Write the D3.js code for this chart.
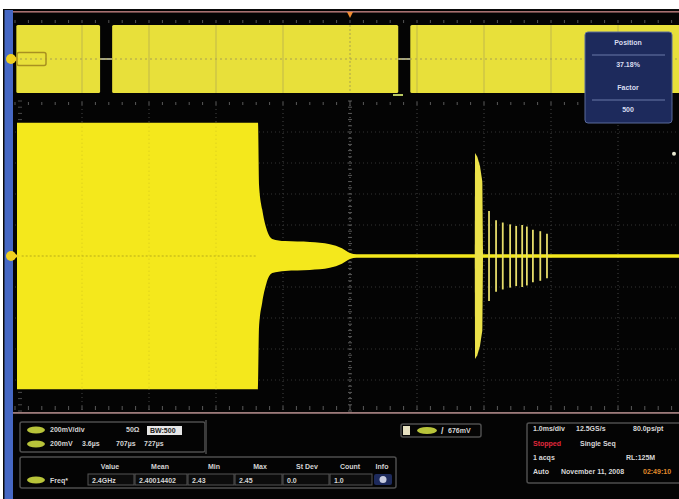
<!DOCTYPE html>
<html>
<head>
<meta charset="utf-8">
<script src="https://cdn.jsdelivr.net/npm/d3@7"></script>
<style>
  html, body { margin: 0; padding: 0; background: #ffffff; }
  svg { display: block; }
  text { font-family: "Liberation Sans", Arial, sans-serif; font-weight: bold; }
</style>
</head>
<body>
<svg id="scope" width="679" height="499"></svg>
<script>
// ---- Acquisition data (time in divisions, amplitude in divisions) ----
// Main channel envelope: carrier on, switch-off, residual tail
const envTime = [0.03, 3.627, 3.642, 3.69, 3.75, 3.84, 4.03, 4.40, 4.70, 4.88, 5.00, 5.10, 10.0];
const envAmp  = [4.30, 4.30,  2.30,  1.50, 0.90, 0.55, 0.48, 0.45, 0.38, 0.25, 0.10, 0.06, 0.06];

// Re-trigger burst: leading spike envelope
const spikeTime = [6.862, 6.866, 6.90, 6.94, 6.975, 6.985];
const spikeAmp  = [0.06,  3.32,  3.20, 2.90, 2.40,  0.06];

// Ringing pulses after the spike
const ringTime = [7.075, 7.18, 7.28, 7.39, 7.48, 7.57, 7.64, 7.73, 7.84, 7.94];
const ringAmp  = [1.45,  1.15, 1.08, 1.02, 0.97, 1.00, 0.95, 0.85, 0.80, 0.72];

// Zoom (overview) window: carrier bursts between gaps
const zoomStart = [0.02, 1.45, 5.90];
const zoomEnd   = [1.27, 5.72, 10.0];
const zoomAmp   = 4.15;

// Readouts
const chanRow1 = ["200mV/div", "50Ω", "BW:500"];
const chanRow2 = ["200mV", "3.6µs", "707µs", "727µs"];
const measHeaders = ["Value", "Mean", "Min", "Max", "St Dev", "Count", "Info"];
const measValues  = ["2.4GHz", "2.40014402", "2.43", "2.45", "0.0", "1.0"];
const zoomInfo = ["Position", "37.18%", "Factor", "500"];
const acqRows = [
  [["1.0ms/div", "#d8d8d8"], ["12.5GS/s", "#d8d8d8"], ["80.0ps/pt", "#d8d8d8"]],
  [["Stopped", "#e0283c"], ["Single Seq", "#d8d8d8"]],
  [["1 acqs", "#d8d8d8"], ["RL:125M", "#d8d8d8"]],
  [["Auto", "#d8d8d8"], ["November 11, 2008", "#d8d8d8"], ["02:49:10", "#e08a2c"]]
];
const trigLevel = "676mV";

// ---- Scales ----
const x  = d3.scaleLinear().domain([0, 10]).range([15, 685]);
const y  = d3.scaleLinear().domain([-5, 5]).range([411, 101]);
const yz = d3.scaleLinear().domain([-5, 5]).range([100, 18]);

const svg = d3.select("#scope");
const YEL = "#f4e81c";

// Frame: white margin, black border, blue side strip, black screen
svg.append("rect").attr("x", 0).attr("y", 0).attr("width", 679).attr("height", 499).attr("fill", "#ffffff");
svg.append("rect").attr("x", 3).attr("y", 9).attr("width", 676).attr("height", 490).attr("fill", "#0a0a0a");
svg.append("rect").attr("x", 4.5).attr("y", 10).attr("width", 8.5).attr("height", 489).attr("fill", "#4668c4");
svg.append("rect").attr("x", 13).attr("y", 10).attr("width", 666).attr("height", 489).attr("fill", "#040404");
svg.append("rect").attr("x", 13).attr("y", 11).attr("width", 666).attr("height", 1.6).attr("fill", "#a87070");
svg.append("rect").attr("x", 13).attr("y", 412).attr("width", 666).attr("height", 1.8).attr("fill", "#9c7a7a");

// ---- Zoom window ----
const zoomG = svg.append("g");
zoomStart.forEach((s, i) => {
  zoomG.append("rect")
    .attr("x", x(s)).attr("y", yz(zoomAmp))
    .attr("width", x(zoomEnd[i]) - x(s))
    .attr("height", yz(-zoomAmp) - yz(zoomAmp))
    .attr("rx", 1.5)
    .attr("fill", "#e8e03a");
});
// Ground segments through the gaps
zoomEnd.slice(0, 2).forEach((e, i) => {
  zoomG.append("line")
    .attr("x1", x(e)).attr("x2", x(zoomStart[i + 1]))
    .attr("y1", yz(0)).attr("y2", yz(0))
    .attr("stroke", "#d8d8b0").attr("stroke-width", 1.5);
});
// Zoom window graticule
d3.range(1, 10).forEach(d => {
  zoomG.append("line")
    .attr("x1", x(d)).attr("x2", x(d)).attr("y1", yz(zoomAmp)).attr("y2", yz(-zoomAmp))
    .attr("stroke", d === 5 ? "#9a9450" : "#b8b050").attr("stroke-width", 1)
    .attr("stroke-dasharray", d === 5 ? "2,2" : null).attr("opacity", 0.8);
});
zoomG.append("line")
  .attr("x1", x(0)).attr("x2", 679).attr("y1", yz(0)).attr("y2", yz(0))
  .attr("stroke", "#a8a050").attr("stroke-dasharray", "2,3");
// tick row above the zoom window
d3.range(0, 50).forEach(i => {
  zoomG.append("line")
    .attr("x1", x(i / 5)).attr("x2", x(i / 5)).attr("y1", 20).attr("y2", 23)
    .attr("stroke", "#555").attr("stroke-width", 1);
});

// ---- Main graticule ----
const grid = svg.append("g");
d3.range(1, 10).forEach(d => {
  grid.append("line")
    .attr("x1", x(d)).attr("x2", x(d)).attr("y1", y(5)).attr("y2", y(-5))
    .attr("stroke", d === 5 ? "#7a7a7a" : "#444")
    .attr("stroke-width", 1).attr("stroke-dasharray", "1,3");
});
d3.range(-4, 5).forEach(d => {
  grid.append("line")
    .attr("x1", x(0)).attr("x2", 679).attr("y1", y(d)).attr("y2", y(d))
    .attr("stroke", d === 0 ? "#6a6a6a" : "#333")
    .attr("stroke-width", 1).attr("stroke-dasharray", "1,3");
});
// minor ticks along the edges and center lines
d3.range(0, 51).forEach(i => {
  const t = i / 5;
  grid.append("line").attr("x1", x(t)).attr("x2", x(t)).attr("y1", y(-5) - 5).attr("y2", y(-5) - 1)
    .attr("stroke", "#5a5a5a");
  grid.append("line").attr("x1", x(t)).attr("x2", x(t)).attr("y1", y(5) + 1).attr("y2", y(5) + 4)
    .attr("stroke", "#5a5a5a");
});
d3.range(-25, 26).forEach(i => {
  const v = i / 5;
  grid.append("line").attr("x1", x(0) + 3).attr("x2", x(0) + 7).attr("y1", y(v)).attr("y2", y(v))
    .attr("stroke", "#4a4a4a");
  grid.append("line").attr("x1", x(5) - 2).attr("x2", x(5) + 2).attr("y1", y(v)).attr("y2", y(v))
    .attr("stroke", "#5a5a5a");
});

// ---- Waveform ----
const area = d3.area()
  .x(d => x(d.t))
  .y0(d => y(-d.a))
  .y1(d => y(d.a))
  .curve(d3.curveMonotoneX);

const envData = envTime.map((t, i) => ({ t, a: envAmp[i] }));
svg.append("path").datum(envData).attr("d", area).attr("fill", YEL);

const spikeData = spikeTime.map((t, i) => ({ t, a: spikeAmp[i] }));
svg.append("path").datum(spikeData).attr("d", area.curve(d3.curveLinear)).attr("fill", "#ece24a");

svg.append("g").selectAll("line").data(ringTime).join("line")
  .attr("x1", d => x(d)).attr("x2", d => x(d))
  .attr("y1", (d, i) => y(ringAmp[i])).attr("y2", (d, i) => y(-ringAmp[i]))
  .attr("stroke", "#e6dc6a").attr("stroke-width", 1.8);

// faint graticule showing through the trace
d3.range(1, 4).forEach(d => {
  svg.append("line")
    .attr("x1", x(d)).attr("x2", x(d)).attr("y1", y(4.3)).attr("y2", y(-4.3))
    .attr("stroke", "#c8bc20").attr("stroke-dasharray", "1,3").attr("opacity", 0.7);
});
svg.append("line")
  .attr("x1", x(0.1)).attr("x2", x(3.6)).attr("y1", y(0)).attr("y2", y(0))
  .attr("stroke", "#b8ac18").attr("stroke-dasharray", "2,2");

// ---- Markers ----
// channel ground reference markers
[yz(0), y(0)].forEach(cy => {
  svg.append("circle").attr("cx", 11).attr("cy", cy).attr("r", 5).attr("fill", "#f0d020");
  svg.append("path").attr("d", `M15,${cy - 2} L20,${cy} L15,${cy + 2} Z`).attr("fill", "#f0d020");
});
svg.append("rect").attr("x", 17).attr("y", yz(0) - 6.5).attr("width", 29).attr("height", 13)
  .attr("rx", 2).attr("fill", "none").attr("stroke", "#a89020").attr("stroke-width", 1.5);
// trigger position marker
svg.append("path").attr("d", `M${x(5) - 3},12 L${x(5) + 3},12 L${x(5)},18 Z`).attr("fill", "#f08a30");
// trigger level marker
svg.append("circle").attr("cx", 674).attr("cy", y(3.3)).attr("r", 2).attr("fill", "#e8e8d0");
// zoom-box position marker under the overview
svg.append("rect").attr("x", 393).attr("y", 94).attr("width", 10).attr("height", 2).attr("fill", "#b8c860");

// ---- Zoom info box ----
const zb = svg.append("g");
zb.append("rect").attr("x", 585).attr("y", 32).attr("width", 87).attr("height", 91).attr("rx", 3)
  .attr("fill", "#1d2a5c").attr("stroke", "#5a6a9a").attr("stroke-width", 1);
zb.selectAll("text").data(zoomInfo).join("text")
  .attr("x", 628).attr("y", (d, i) => [45, 67, 90, 112][i])
  .attr("text-anchor", "middle").attr("font-size", 7).attr("fill", "#d8dcef").text(d => d);
[55, 100].forEach(ly => {
  zb.append("line").attr("x1", 592).attr("x2", 665).attr("y1", ly).attr("y2", ly)
    .attr("stroke", "#6a78a8").attr("stroke-width", 1);
});

// ---- Readout panel ----
const panel = svg.append("g").attr("font-size", 7).attr("fill", "#d4d4d4");
function pill(px, py, w) {
  panel.append("ellipse").attr("cx", px + w / 2).attr("cy", py).attr("rx", w / 2).attr("ry", 3.5)
    .attr("fill", "#b8c43a");
}
function box(bx, by, w, h) {
  panel.append("rect").attr("x", bx).attr("y", by).attr("width", w).attr("height", h).attr("rx", 2)
    .attr("fill", "none").attr("stroke", "#4e4e4e").attr("stroke-width", 1.5);
}

// channel readout
box(20, 422, 185, 30);
panel.append("line").attr("x1", 206).attr("x2", 206).attr("y1", 420).attr("y2", 454).attr("stroke", "#3a3a3a").attr("stroke-width", 2);
pill(27, 430, 18);
pill(27, 444, 18);
panel.append("text").attr("x", 50).attr("y", 432).text(chanRow1[0]);
panel.append("text").attr("x", 126).attr("y", 432).text(chanRow1[1]);
panel.append("rect").attr("x", 147).attr("y", 426).attr("width", 35).attr("height", 9).attr("fill", "#e6e6e6");
panel.append("text").attr("x", 150).attr("y", 433).attr("fill", "#202020").text(chanRow1[2]);
[50, 82, 116, 144].forEach((tx, i) => {
  panel.append("text").attr("x", tx).attr("y", 446).text(chanRow2[i]);
});

// measurement table
box(20, 457, 376, 31);
const headX = [110, 160, 214, 260, 307, 350, 382];
panel.selectAll("text.head").data(measHeaders).join("text").attr("class", "head")
  .attr("x", (d, i) => headX[i]).attr("y", 469).attr("text-anchor", "middle").text(d => d);
pill(27, 480, 18);
panel.append("text").attr("x", 50).attr("y", 483).text("Freq*");
const cellX = [88, 135, 188, 235, 283, 330];
const cellW = [46, 52, 46, 47, 46, 42];
measValues.forEach((v, i) => {
  panel.append("rect").attr("x", cellX[i]).attr("y", 474).attr("width", cellW[i]).attr("height", 11)
    .attr("fill", "#0c0c0c").attr("stroke", "#555").attr("stroke-width", 1);
  panel.append("text").attr("x", cellX[i] + 4).attr("y", 482.5).text(v);
});
panel.append("rect").attr("x", 374).attr("y", 474).attr("width", 18).attr("height", 11).attr("rx", 2).attr("fill", "#1d2a5c");
panel.append("circle").attr("cx", 383).attr("cy", 479.5).attr("r", 3.5).attr("fill", "#c8cce0");

// trigger readout
box(401, 424, 80, 13);
panel.append("rect").attr("x", 403).attr("y", 426).attr("width", 7).attr("height", 9).attr("fill", "#e6e0c0");
pill(417, 430.5, 20);
panel.append("text").attr("x", 441).attr("y", 433.5).attr("font-size", 9).text("/");
panel.append("text").attr("x", 448).attr("y", 433).text(trigLevel);

// acquisition readout
box(527, 423, 160, 60);
const acqX = [[533, 576, 633], [533, 580], [533, 626], [533, 561, 643]];
const acqY = [431, 446, 460, 474];
acqRows.forEach((row, r) => {
  row.forEach((cell, c) => {
    panel.append("text").attr("x", acqX[r][c]).attr("y", acqY[r]).attr("fill", cell[1]).text(cell[0]);
  });
});
</script>
</body>
</html>
